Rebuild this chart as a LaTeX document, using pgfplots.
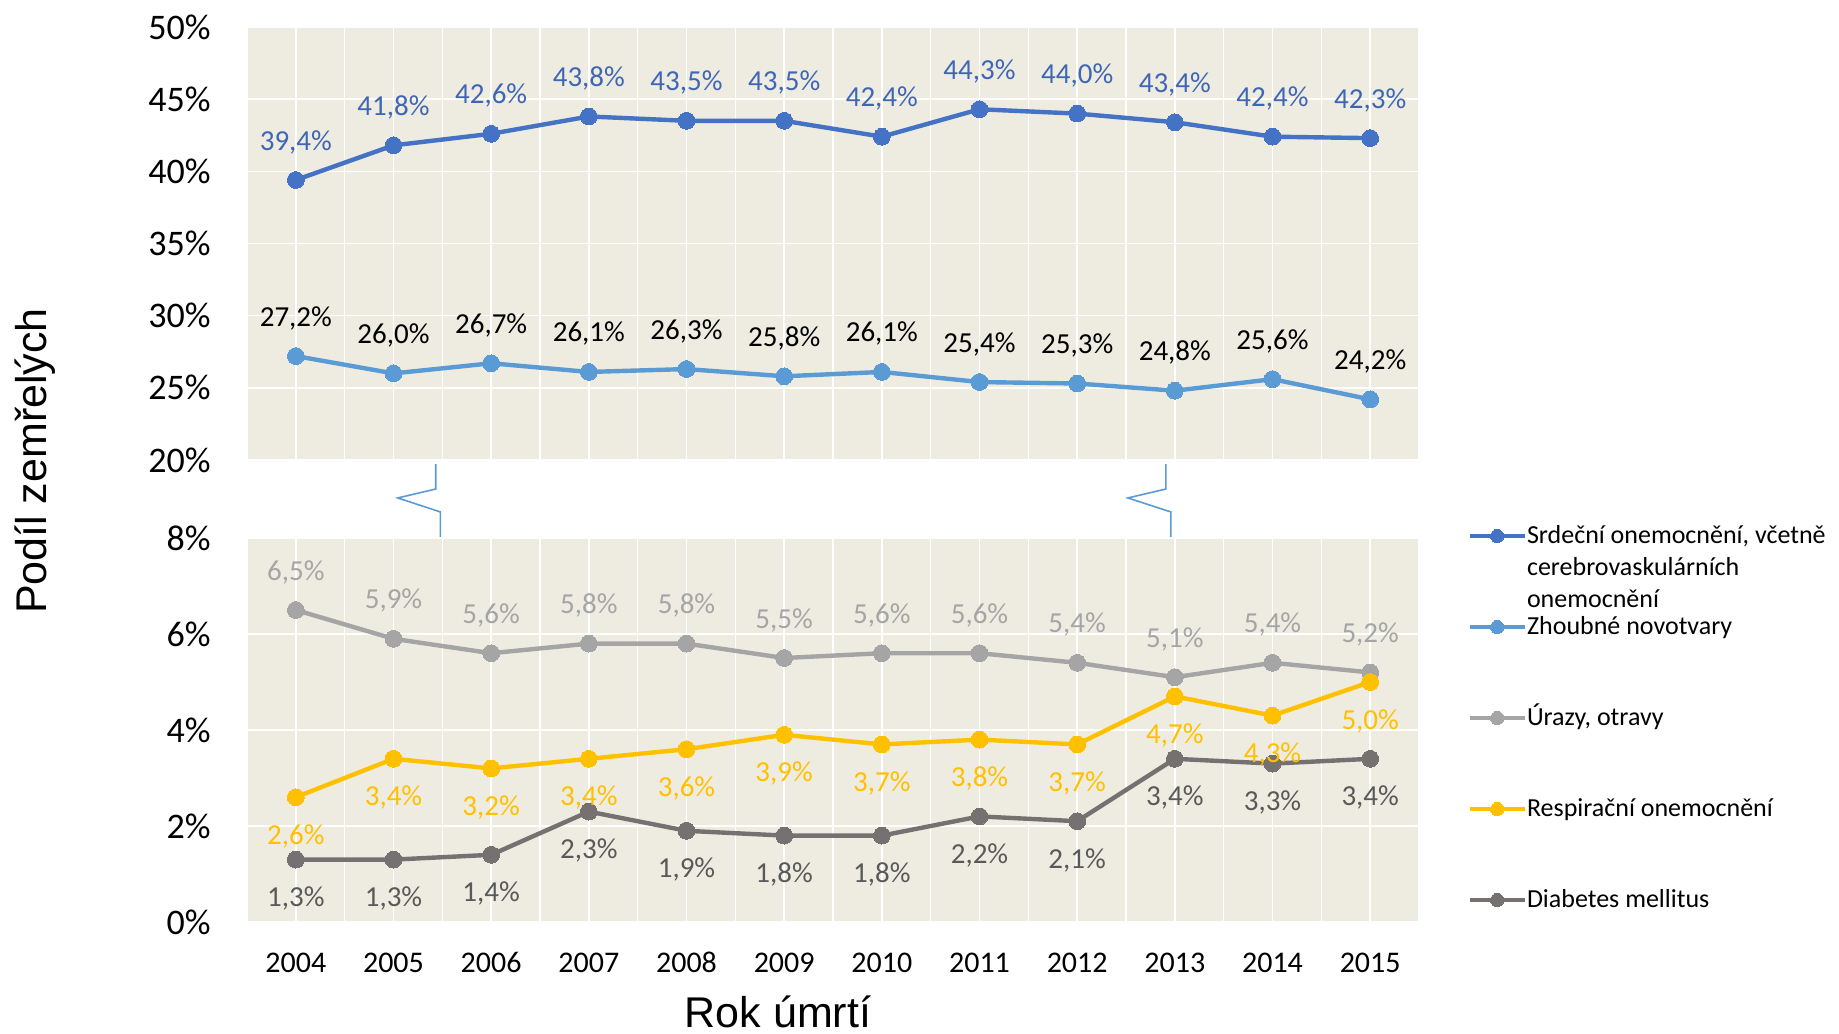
\documentclass[border=0pt]{standalone}
\usepackage{pgfplots}
\pgfplotsset{compat=1.18}
\usepackage{pgfplotstable}
\usepackage{fontspec}
\setmainfont{Carlito}
\newfontfamily\arial{Liberation Sans}

\definecolor{srdcol}{HTML}{4472C4}
\definecolor{srdlbl}{HTML}{3F66B5}
\definecolor{zhocol}{HTML}{5B9BD5}
\definecolor{uracol}{HTML}{A5A5A5}
\definecolor{rescol}{HTML}{FFC000}
\definecolor{diacol}{HTML}{767171}
\definecolor{dialbl}{HTML}{595959}
\definecolor{bgcol}{HTML}{EEECE1}

\pgfplotstableread{
year srd zho ura res dia
2004 39.4 27.2 6.5 2.6 1.3
2005 41.8 26.0 5.9 3.4 1.3
2006 42.6 26.7 5.6 3.2 1.4
2007 43.8 26.1 5.8 3.4 2.3
2008 43.5 26.3 5.8 3.6 1.9
2009 43.5 25.8 5.5 3.9 1.8
2010 42.4 26.1 5.6 3.7 1.8
2011 44.3 25.4 5.6 3.8 2.2
2012 44.0 25.3 5.4 3.7 2.1
2013 43.4 24.8 5.1 4.7 3.4
2014 42.4 25.6 5.4 4.3 3.3
2015 42.3 24.2 5.2 5.0 3.4
}\data

\pgfplotsset{
  ser/.style={color=#1, line width=2.2pt, mark=*, mark size=4.2pt,
    mark options={solid, fill=#1, draw=#1, line width=0pt}},
  lbl/.style 2 args={forget plot, draw=none, mark=none, point meta=y,
    nodes near coords={\pgfmathprintnumber[fixed,fixed zerofill,precision=1,use comma,assume math mode=true]{\pgfplotspointmeta}\%},
    every node near coord/.append style={anchor=center, inner sep=0pt, yshift=#2, text=#1,
      font=\fontsize{14.5}{14.5}\selectfont}},
  base/.style={
    scale only axis, width=586pt,
    xmin=2003.5, xmax=2015.5,
    xtick={2004,2005,...,2015},
    minor xtick={2003.5,2004.5,...,2015.5},
    xmajorgrids, xminorgrids, ymajorgrids,
    grid style={white, line width=0.7pt},
    minor grid style={white, line width=0.7pt},
    major tick length=0pt, minor tick length=0pt,
    axis line style={draw=none},
    axis background/.style={fill=bgcol},
    yticklabel style={font=\fontsize{18}{18}\selectfont, inner sep=0pt, anchor=east, xshift=-18pt},
    clip=false,
  },
}

\begin{document}
\begin{tikzpicture}
\useasboundingbox (-123.5pt,-55.5pt) rectangle (796pt,461pt);

% top panel
\begin{axis}[base, at={(0pt,231pt)}, anchor=south west, height=216.5pt,
  ymin=20, ymax=50, ytick={20,25,...,50},
  yticklabels={20\%,25\%,30\%,35\%,40\%,45\%,50\%},
  xticklabels={},
]
\addplot[ser=srdcol] table[x=year,y=srd]{\data};
\addplot[ser=zhocol] table[x=year,y=zho]{\data};
\addplot[lbl={srdlbl}{19pt}] table[x=year,y=srd]{\data};
\addplot[lbl={black}{19pt}] table[x=year,y=zho]{\data};
\draw[zhocol, line width=0.8pt]
  (axis cs:2005.433,19.72) -- (axis cs:2005.433,17.99) -- (axis cs:2005.044,17.37)
  -- (axis cs:2005.48,16.40) -- (axis cs:2005.48,14.60);
\draw[zhocol, line width=0.8pt]
  (axis cs:2012.908,19.72) -- (axis cs:2012.908,17.99) -- (axis cs:2012.519,17.37)
  -- (axis cs:2012.96,16.40) -- (axis cs:2012.96,14.60);
\end{axis}

% bottom panel
\begin{axis}[base, at={(0pt,0pt)}, anchor=south west, height=192pt,
  ymin=0, ymax=8, ytick={0,2,...,8},
  yticklabels={0\%,2\%,4\%,6\%,8\%},
  xticklabels={2004,2005,2006,2007,2008,2009,2010,2011,2012,2013,2014,2015},
  xticklabel style={font=\fontsize{15}{15}\selectfont, anchor=base, inner sep=0pt, yshift=-25.3pt},
  legend image code/.code={\draw[mark repeat=2,mark phase=2,#1,line width=1.7pt,mark size=3.3pt]
     plot coordinates {(0pt,0pt) (13.75pt,0pt) (27.5pt,0pt)};},
  legend cell align=left,
  legend style={at={(1.0418,1.039)}, anchor=north west, draw=none, fill=none,
    inner sep=0pt, outer sep=0pt, row sep=32.5pt, column sep=0.3pt,
    nodes={inner sep=0pt, text height=10pt, text depth=3pt,
      font=\fontsize{13}{16}\selectfont, text=black}},
]
\addlegendimage{ser=srdcol}
\addlegendentry{\parbox[t]{190pt}{\raggedright Srdeční onemocnění, včetně\\cerebrovaskulárních\\onemocnění}}
\addlegendimage{ser=zhocol}
\addlegendentry{Zhoubné novotvary}
\addplot[ser=uracol] table[x=year,y=ura]{\data};
\addlegendentry{Úrazy, otravy}
\addplot[ser=rescol] table[x=year,y=res]{\data};
\addlegendentry{Respirační onemocnění}
\addplot[ser=diacol] table[x=year,y=dia]{\data};
\addlegendentry{Diabetes mellitus}
\addplot[lbl={uracol}{19pt}] table[x=year,y=ura]{\data};
\addplot[lbl={rescol}{-19.5pt}] table[x=year,y=res]{\data};
\addplot[lbl={dialbl}{-19.5pt}] table[x=year,y=dia]{\data};
\end{axis}

\node[rotate=90, anchor=base, font=\arial\fontsize{21.5}{21.5}\selectfont] at (-100pt,230.5pt) {Podíl zemřelých};
\node[anchor=base, font=\arial\fontsize{21.5}{21.5}\selectfont] at (265.5pt,-52.5pt) {Rok úmrtí};
\end{tikzpicture}
\end{document}
